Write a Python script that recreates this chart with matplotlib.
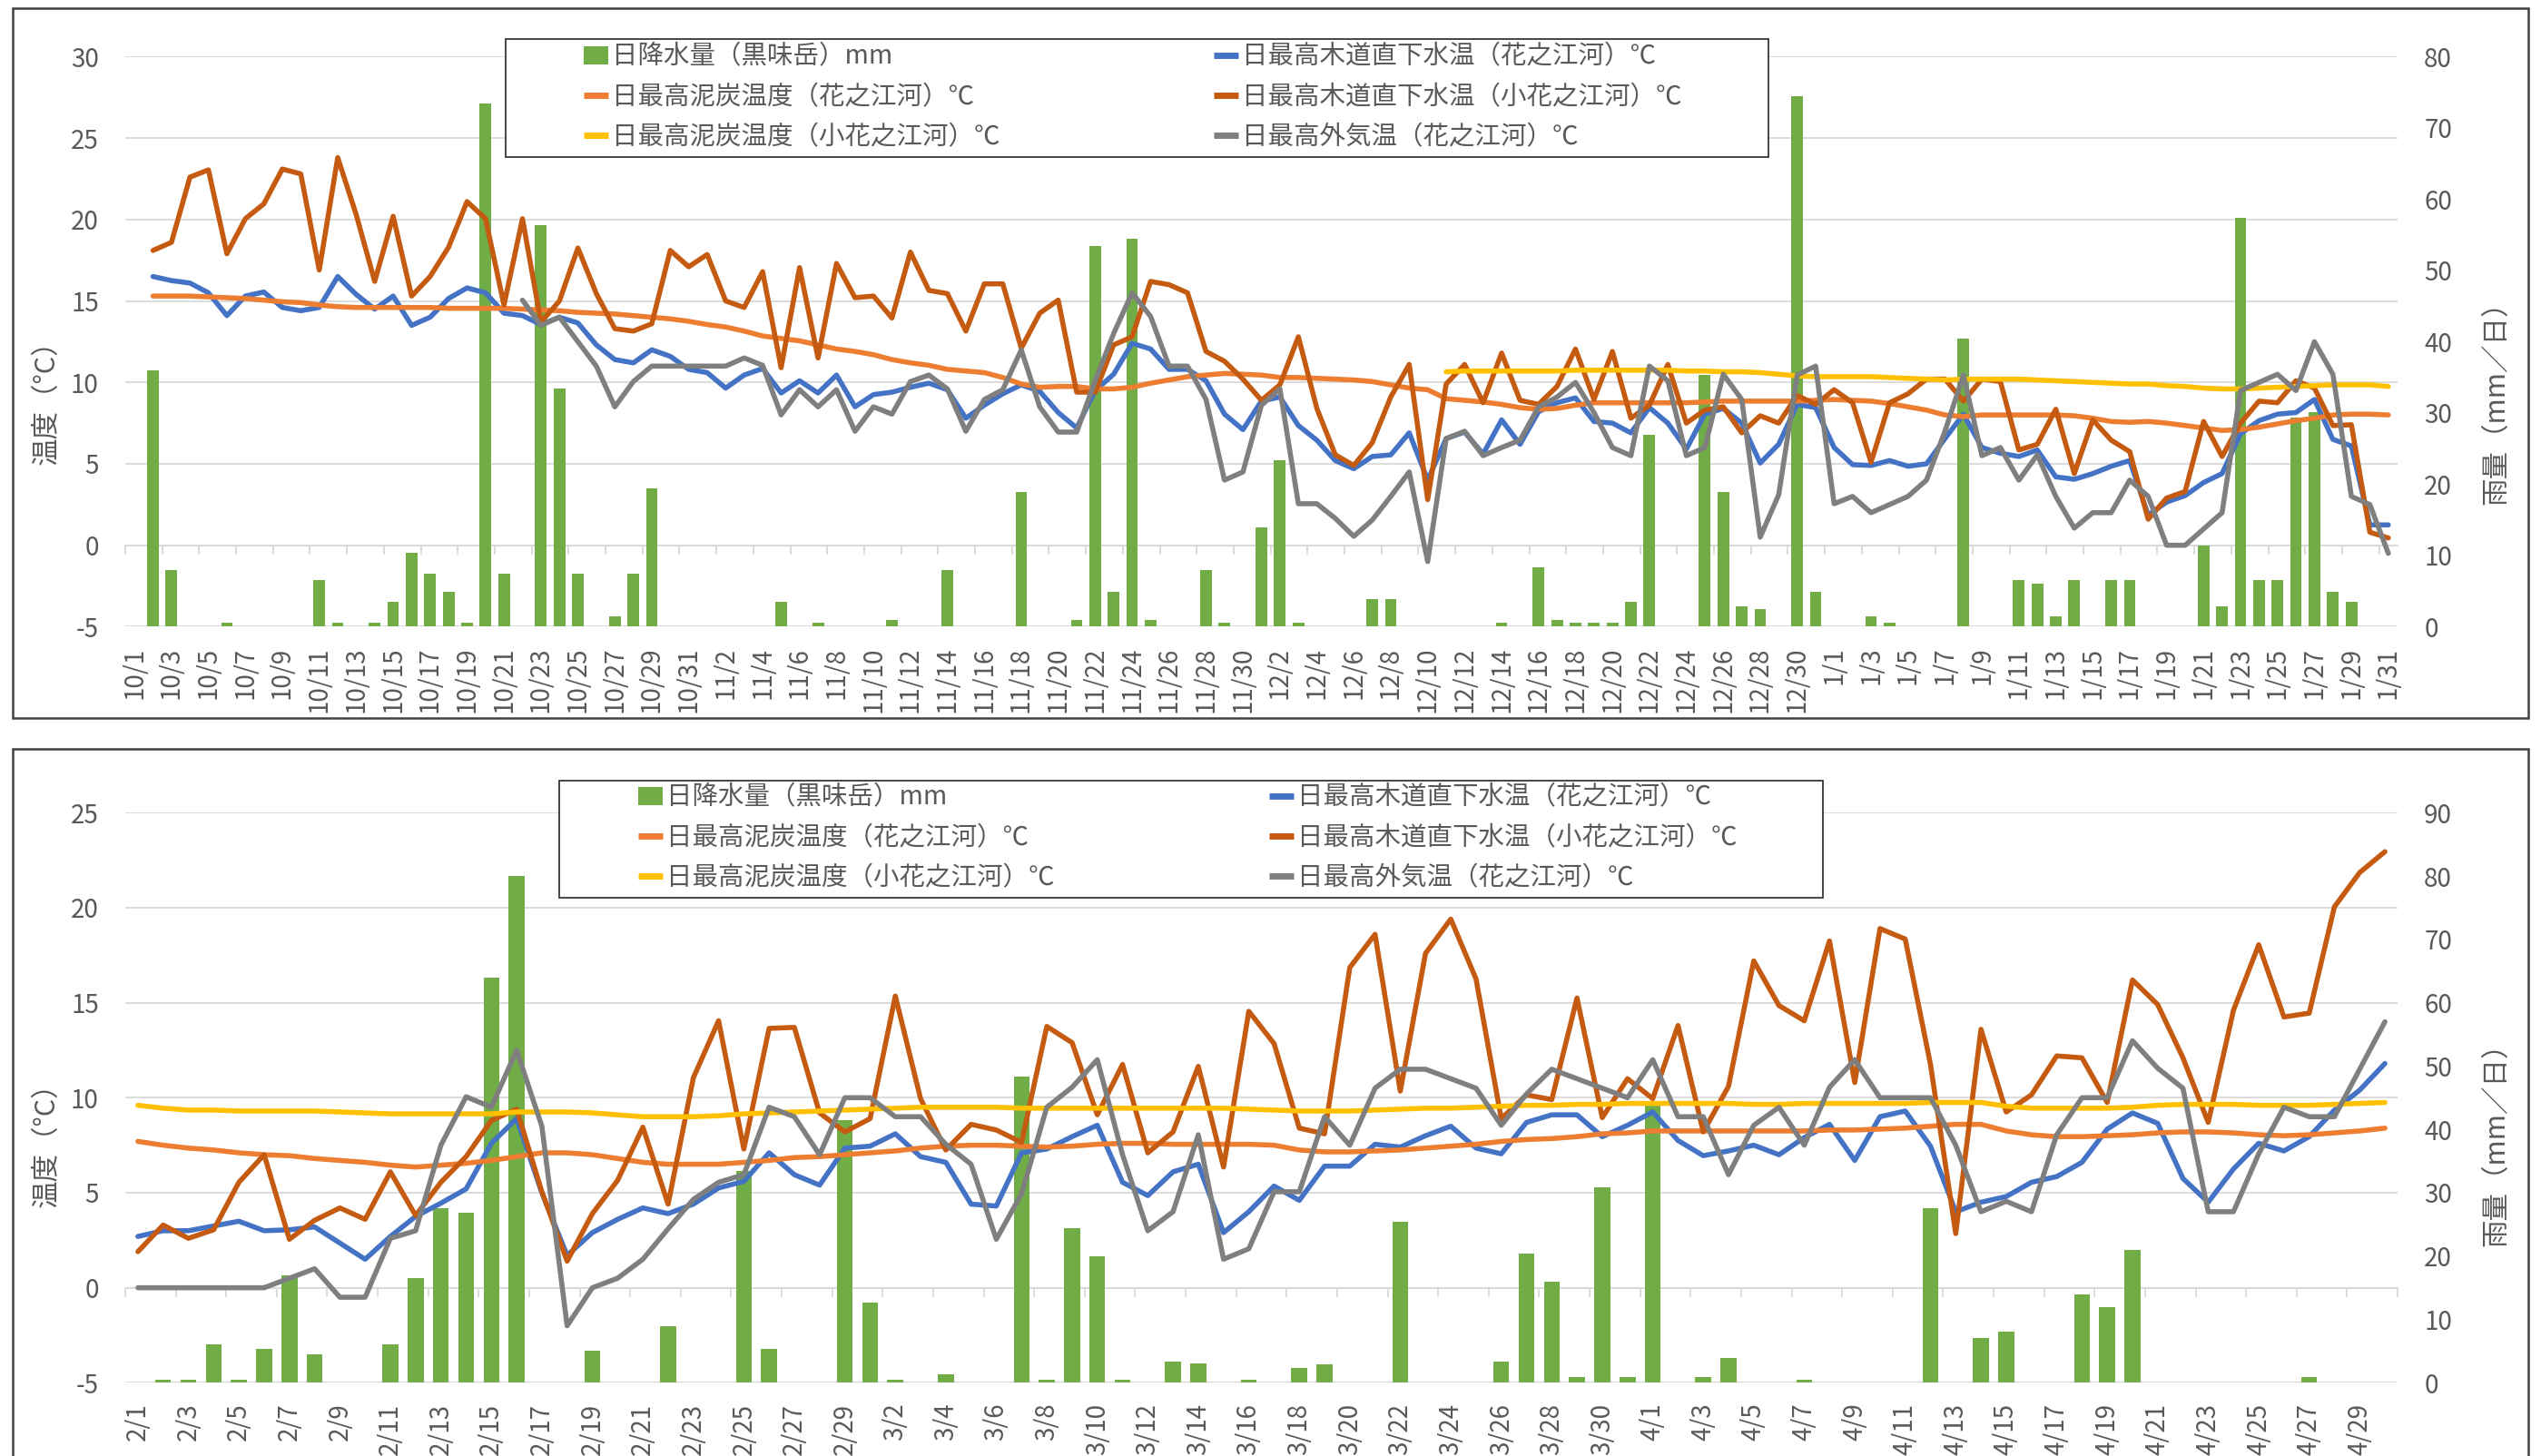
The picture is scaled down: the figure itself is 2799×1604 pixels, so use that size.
import numpy as np
import pandas as pd
import matplotlib
matplotlib.use('Agg')
import matplotlib.pyplot as plt
from matplotlib.patches import Rectangle, Patch
from matplotlib.lines import Line2D

plt.rcParams['font.family'] = ['Noto Sans CJK JP', 'DejaVu Sans']
plt.rcParams['axes.unicode_minus'] = False

nan = np.nan

# ---------------- data ----------------
top_dates = [f"{d.month}/{d.day}" for d in pd.date_range('2023-10-01', '2024-01-31')]
bot_dates = [f"{d.month}/{d.day}" for d in pd.date_range('2024-02-01', '2024-04-30')]

# Oct - Jan
top_rain = [0, 36.0, 7.9, 0, 0, 0.5, 0, 0, 0, 0,
            6.5, 0.5, 0, 0.5, 3.5, 10.4, 7.4, 4.9, 0.5, 73.4,
            7.4, 0, 56.4, 33.4, 7.4, 0, 1.4, 7.4, 19.4, 0,
            0, 0, 0, 0, 0, 3.5, 0, 0.5, 0, 0,
            0, 0.9, 0, 0, 7.9, 0, 0, 0, 18.9, 0,
            0, 0.9, 53.4, 4.9, 54.4, 0.9, 0, 0, 7.9, 0.5,
            0, 13.9, 23.4, 0.5, 0, 0, 0, 3.9, 3.9, 0,
            0, 0, 0, 0, 0.5, 0, 8.3, 0.9, 0.5, 0.5,
            0.5, 3.5, 26.9, 0, 0, 35.3, 18.9, 2.9, 2.5, 0,
            74.4, 4.9, 0, 0, 1.4, 0.5, 0, 0, 0, 40.4,
            0, 0, 6.5, 6.0, 1.4, 6.5, 0, 6.5, 6.5, 0,
            0, 0, 11.4, 2.9, 57.4, 6.5, 6.5, 29.4, 30.1, 4.9,
            3.5, 0, 0]

top_water_h = [nan, 16.5, 16.25, 16.1, 15.5, 14.1, 15.3, 15.55, 14.6, 14.4,
               14.6, 16.5, 15.4, 14.5, 15.3, 13.5, 14.0, 15.15, 15.8, 15.5,
               14.25, 14.1, 13.55, 14.0, 13.65, 12.3, 11.4, 11.2, 12.0, 11.6,
               10.8, 10.6, 9.65, 10.45, 10.85, 9.35, 10.1, 9.35, 10.45, 8.5,
               9.25, 9.4, 9.7, 9.95, 9.55, 7.8, 8.6, 9.3, 9.85, 9.45,
               8.15, 7.2, 9.5, 10.5, 12.4, 12.05, 10.8, 10.8, 10.1, 8.05,
               7.1, 8.85, 9.1, 7.35, 6.45, 5.2, 4.7, 5.45, 5.55, 6.9,
               4.0, 6.55, 6.95, 5.6, 7.7, 6.2, 8.2, 8.75, 9.05, 7.6,
               7.5, 6.9, 8.45, 7.5, 5.9, 8.05, 8.4, 7.5, 5.05, 6.2,
               8.65, 8.45, 6.0, 4.95, 4.9, 5.2, 4.85, 5.0, 6.55, 8.05,
               6.0, 5.65, 5.45, 5.85, 4.2, 4.05, 4.4, 4.85, 5.2, 1.85,
               2.65, 3.05, 3.85, 4.4, 6.85, 7.65, 8.05, 8.15, 8.95, 6.5,
               6.1, 1.25, 1.25]

top_water_k = [nan, 18.1, 18.6, 22.6, 23.05, 17.9, 20.05, 20.96, 23.1, 22.8,
               16.9, 23.8, 20.3, 16.2, 20.2, 15.3, 16.5, 18.3, 21.1, 20.05,
               14.75, 20.05, 13.7, 15.0, 18.25, 15.45, 13.3, 13.15, 13.6, 18.1,
               17.1, 17.85, 15.0, 14.6, 16.8, 10.9, 17.05, 11.5, 17.3, 15.2,
               15.3, 13.95, 18.0, 15.65, 15.45, 13.15, 16.05, 16.05, 12.1, 14.25,
               15.05, 9.4, 9.4, 12.3, 12.8, 16.2, 16.0, 15.5, 11.9, 11.3,
               10.2, 8.9, 9.85, 12.8, 8.4, 5.55, 4.9, 6.3, 9.1, 11.1,
               2.8, 9.9, 11.1, 8.75, 11.8, 8.9, 8.65, 9.75, 12.05, 8.95,
               11.9, 7.8, 8.6, 11.1, 7.5, 8.3, 8.5, 6.9, 7.95, 7.5,
               9.2, 8.65, 9.55, 8.75, 5.1, 8.75, 9.3, 10.2, 10.2, 8.85,
               10.2, 10.05, 5.85, 6.2, 8.35, 4.4, 7.7, 6.45, 5.75, 1.6,
               2.9, 3.3, 7.6, 5.45, 7.5, 8.85, 8.75, 10.1, 9.65, 7.35,
               7.4, 0.8, 0.45]

top_peat_h = [nan, 15.3, 15.3, 15.3, 15.25, 15.2, 15.15, 15.05, 14.95, 14.9,
              14.75, 14.65, 14.6, 14.6, 14.6, 14.6, 14.6, 14.55, 14.55, 14.55,
              14.55, 14.5, 14.45, 14.4, 14.3, 14.25, 14.2, 14.1, 14.0, 13.9,
              13.75, 13.55, 13.4, 13.15, 12.85, 12.7, 12.55, 12.3, 12.05, 11.9,
              11.7, 11.4, 11.2, 11.05, 10.8, 10.7, 10.6, 10.3, 9.9, 9.7,
              9.75, 9.75, 9.6, 9.6, 9.7, 9.95, 10.15, 10.35, 10.45, 10.55,
              10.5, 10.45, 10.3, 10.3, 10.25, 10.2, 10.15, 10.05, 9.85, 9.65,
              9.55, 9.0, 8.9, 8.8, 8.65, 8.45, 8.35, 8.4, 8.6, 8.75,
              8.75, 8.75, 8.75, 8.75, 8.75, 8.8, 8.85, 8.85, 8.85, 8.85,
              8.85, 8.9, 8.95, 8.9, 8.85, 8.7, 8.5, 8.3, 8.0, 7.9,
              8.0, 8.0, 8.0, 8.0, 8.0, 7.95, 7.8, 7.6, 7.55, 7.6,
              7.5, 7.35, 7.2, 7.05, 7.1, 7.25, 7.45, 7.65, 7.8, 8.0,
              8.05, 8.05, 8.0]

top_peat_k = [nan] * 71 + [
    10.65, 10.7, 10.7, 10.7, 10.7, 10.7, 10.7, 10.75, 10.75, 10.75,
    10.75, 10.75, 10.75, 10.7, 10.7, 10.65, 10.65, 10.6, 10.5, 10.4,
    10.35, 10.35, 10.35, 10.35, 10.3, 10.25, 10.2, 10.15, 10.2, 10.2,
    10.2, 10.2, 10.15, 10.1, 10.05, 10.0, 9.95, 9.9, 9.9, 9.8,
    9.75, 9.65, 9.6, 9.6, 9.65, 9.7, 9.75, 9.8, 9.85, 9.85,
    9.85, 9.75]

top_air = [nan] * 21 + [
    15.05, 13.5, 14.0, 12.5, 11.0, 8.5, 10.05, 11.0, 11.0, 11.0,
    11.0, 11.0, 11.5, 11.05, 8.0, 9.55, 8.5, 9.55, 7.0, 8.5,
    8.05, 10.05, 10.45, 9.6, 7.0, 8.95, 9.55, 12.0, 8.5, 6.95,
    6.95, 10.1, 13.0, 15.5, 14.05, 11.0, 11.0, 8.95, 4.0, 4.5,
    8.6, 9.6, 2.55, 2.55, 1.65, 0.55, 1.55, 3.0, 4.5, -1.0,
    6.55, 7.0, 5.5, 6.0, 6.45, 8.5, 9.1, 10.0, 8.15, 6.0,
    5.5, 11.0, 10.1, 5.5, 6.0, 10.5, 8.95, 0.5, 3.1, 10.45,
    11.0, 2.55, 3.0, 2.0, 2.5, 3.0, 4.0, 7.0, 10.45, 5.5,
    6.0, 4.0, 5.55, 3.0, 1.05, 2.0, 2.0, 4.0, 3.0, 0.0,
    0.0, 1.0, 2.0, 9.5, 10.0, 10.5, 9.5, 12.5, 10.5, 3.0,
    2.5, -0.5]

# Feb - Apr
bot_rain = [0, 0.5, 0.5, 6.0, 0.5, 5.4, 16.9, 4.5, 0, 0,
            6.0, 16.5, 27.5, 26.9, 63.9, 80.0, 0, 0, 5.0, 0,
            0, 8.9, 0, 0, 33.4, 5.4, 0, 0, 41.5, 12.6,
            0.5, 0, 1.4, 0, 0, 48.4, 0.5, 24.4, 19.9, 0.5,
            0, 3.4, 3.0, 0, 0.5, 0, 2.4, 2.9, 0, 0,
            25.4, 0, 0, 0, 3.4, 20.4, 16.0, 0.9, 30.9, 0.9,
            43.8, 0, 0.9, 3.9, 0, 0, 0.5, 0, 0, 0,
            0, 27.5, 0, 7.0, 8.0, 0, 0, 13.9, 12.0, 21.0,
            0, 0, 0, 0, 0, 0, 0.9, 0, 0, 0]

bot_water_h = [2.7, 3.0, 3.0, 3.25, 3.5, 3.0, 3.05, 3.2, 2.35, 1.5,
               2.7, 3.75, 4.45, 5.2, 7.6, 8.9, 5.0, 1.7, 2.9, 3.6,
               4.2, 3.9, 4.4, 5.25, 5.6, 7.1, 5.95, 5.4, 7.35, 7.45,
               8.1, 6.9, 6.6, 4.4, 4.3, 7.1, 7.3, 7.95, 8.55, 5.55,
               4.85, 6.1, 6.5, 2.9, 4.0, 5.35, 4.6, 6.4, 6.4, 7.55,
               7.4, 8.0, 8.5, 7.35, 7.05, 8.7, 9.1, 9.1, 7.95, 8.55,
               9.25, 7.75, 6.95, 7.2, 7.5, 7.0, 7.9, 8.6, 6.7, 9.0,
               9.3, 7.45, 4.0, 4.5, 4.8, 5.55, 5.85, 6.6, 8.35, 9.2,
               8.65, 5.75, 4.5, 6.25, 7.6, 7.2, 7.95, 9.35, 10.4, 11.8]

bot_water_k = [1.9, 3.3, 2.6, 3.05, 5.55, 7.0, 2.55, 3.55, 4.2, 3.6,
               6.1, 3.8, 5.55, 6.9, 8.8, 9.4, 5.05, 1.4, 3.9, 5.65,
               8.45, 4.4, 11.05, 14.05, 7.3, 13.65, 13.7, 9.2, 8.2, 8.9,
               15.35, 9.95, 7.25, 8.6, 8.3, 7.65, 13.75, 12.9, 9.1, 11.75,
               7.1, 8.2, 11.65, 6.35, 14.55, 12.85, 8.4, 8.1, 16.85, 18.6,
               10.35, 17.6, 19.4, 16.25, 8.9, 10.15, 9.9, 15.25, 8.95, 11.0,
               9.95, 13.8, 8.2, 10.6, 17.2, 14.85, 14.05, 18.25, 10.8, 18.9,
               18.35, 11.75, 2.85, 13.6, 9.25, 10.15, 12.2, 12.1, 9.75, 16.2,
               14.9, 12.1, 8.7, 14.6, 18.05, 14.25, 14.45, 20.05, 21.85, 22.95]

bot_peat_h = [7.7, 7.5, 7.35, 7.25, 7.1, 7.0, 6.95, 6.8, 6.7, 6.6,
              6.45, 6.35, 6.45, 6.55, 6.7, 6.9, 7.1, 7.1, 7.0, 6.8,
              6.6, 6.5, 6.5, 6.5, 6.6, 6.7, 6.85, 6.9, 7.0, 7.1,
              7.2, 7.35, 7.45, 7.5, 7.5, 7.45, 7.4, 7.45, 7.55, 7.6,
              7.6, 7.55, 7.55, 7.55, 7.55, 7.5, 7.25, 7.15, 7.15, 7.2,
              7.25, 7.35, 7.45, 7.55, 7.7, 7.8, 7.85, 7.95, 8.1, 8.15,
              8.25, 8.25, 8.25, 8.25, 8.25, 8.25, 8.25, 8.3, 8.3, 8.35,
              8.4, 8.5, 8.6, 8.6, 8.25, 8.05, 7.95, 7.95, 8.0, 8.05,
              8.15, 8.2, 8.2, 8.15, 8.05, 8.0, 8.05, 8.15, 8.25, 8.4]

bot_peat_k = [9.6, 9.45, 9.35, 9.35, 9.3, 9.3, 9.3, 9.3, 9.25, 9.2,
              9.15, 9.15, 9.15, 9.15, 9.15, 9.25, 9.25, 9.25, 9.2, 9.1,
              9.0, 9.0, 9.0, 9.05, 9.15, 9.2, 9.25, 9.3, 9.35, 9.4,
              9.45, 9.5, 9.5, 9.5, 9.5, 9.45, 9.45, 9.45, 9.45, 9.45,
              9.45, 9.45, 9.45, 9.45, 9.4, 9.35, 9.3, 9.3, 9.3, 9.35,
              9.4, 9.45, 9.45, 9.5, 9.55, 9.6, 9.6, 9.65, 9.65, 9.7,
              9.7, 9.7, 9.7, 9.7, 9.65, 9.65, 9.7, 9.7, 9.7, 9.7,
              9.7, 9.75, 9.75, 9.75, 9.55, 9.45, 9.45, 9.45, 9.45, 9.5,
              9.6, 9.65, 9.65, 9.65, 9.6, 9.6, 9.6, 9.65, 9.7, 9.75]

bot_air = [0.0, 0.0, 0.0, 0.0, 0.0, 0.0, 0.5, 1.0, -0.5, -0.5,
           2.6, 3.0, 7.5, 10.05, 9.5, 12.5, 8.5, -2.0, 0.0, 0.5,
           1.5, 3.1, 4.65, 5.55, 5.95, 9.5, 9.0, 7.0, 10.0, 10.0,
           9.0, 9.0, 7.55, 6.5, 2.55, 4.95, 9.5, 10.55, 12.0, 7.0,
           3.0, 4.0, 8.05, 1.5, 2.05, 5.05, 5.05, 9.0, 7.5, 10.5,
           11.5, 11.5, 11.0, 10.5, 8.55, 10.2, 11.5, 11.0, 10.5, 10.0,
           12.0, 9.0, 9.0, 5.95, 8.55, 9.5, 7.5, 10.55, 12.0, 10.0,
           10.0, 10.0, 7.5, 4.0, 4.55, 4.0, 8.05, 10.0, 10.0, 13.0,
           11.55, 10.5, 4.0, 4.0, 7.05, 9.5, 9.0, 9.0, 11.5, 14.0]

labels = ['日降水量（黒味岳）mm',
          '日最高泥炭温度（花之江河）℃',
          '日最高泥炭温度（小花之江河）℃',
          '日最高木道直下水温（花之江河）℃',
          '日最高木道直下水温（小花之江河）℃',
          '日最高外気温（花之江河）℃']

C_RAIN = '#70AD47'
C_WH = '#4472C4'
C_PH = '#ED7D31'
C_WK = '#C55A11'
C_PK = '#FFC000'
C_AIR = '#7F7F7F'
TXT = '#595959'
GRID = '#D9D9D9'

W, H = 2799, 1604
fig = plt.figure(figsize=(W / 100, H / 100), dpi=100)


def fx(px):
    return px / W


def fy(py):
    return 1 - py / H


def frame(x0, y0, x1, y1, **kw):
    fig.add_artist(Rectangle((fx(x0), fy(y1)), fx(x1) - fx(x0), fy(y0) - fy(y1),
                             transform=fig.transFigure, **kw))


def panel(box, plot, dates, rain, peat_h, peat_k, water_h, water_k, air,
          t_lim, r_lim, r_step, leg_box, leg_x, leg_y, lab_y):
    frame(*box, fill=False, edgecolor='#404040', lw=1.8, zorder=0)

    l, t, r, b = plot
    ax = fig.add_axes([fx(l), fy(b), fx(r) - fx(l), fy(t) - fy(b)])
    ax_r = ax.twinx()
    ax_l = ax.twinx()
    ax.set_zorder(0)
    ax_r.set_zorder(1)
    ax_l.set_zorder(2)

    n = len(dates)
    x = np.arange(n)
    ax.set_xlim(-0.5, n - 0.5)
    ax.set_ylim(*t_lim)
    ax_l.set_ylim(*t_lim)
    ax_r.set_ylim(*r_lim)

    # grid + category axis crossing at 0
    ax.set_yticks(np.arange(t_lim[0], t_lim[1] + 1, 5))
    ax.yaxis.grid(True, color=GRID, lw=1.3)
    ax.set_axisbelow(True)
    for s in ['top', 'left', 'right']:
        ax.spines[s].set_visible(False)
    ax.spines['bottom'].set_position(('data', 0))
    ax.spines['bottom'].set_color(GRID)
    ax.spines['bottom'].set_linewidth(1.3)
    ax.set_xticks(np.arange(-0.5, n, 2))
    ax.tick_params(axis='x', direction='out', length=7, width=1.3, color=GRID,
                   labelbottom=False)
    ax.tick_params(axis='y', length=0, labelsize=20, labelcolor=TXT, pad=21)

    sec = ax.secondary_xaxis(0)
    sec.set_xticks(x[::2], labels=dates[::2])
    sec.tick_params(axis='x', length=0, pad=16, labelsize=20, labelcolor=TXT,
                    labelrotation=90)
    sec.spines['bottom'].set_visible(False)

    for s in ax_r.spines.values():
        s.set_visible(False)
    ax_r.set_yticks(np.arange(0, r_lim[1] + 1, r_step))
    ax_r.tick_params(axis='y', length=0, labelsize=20, labelcolor=TXT, pad=21)
    ax_l.set_axis_off()

    ax.set_ylabel('温度（°C）', fontsize=22, color=TXT)
    ax.yaxis.set_label_coords(-0.0284, lab_y)
    ax_r.set_ylabel('雨量（mm／日）', fontsize=22, color=TXT)
    ax_r.yaxis.set_label_coords(1.0372, lab_y)

    # series
    ax_r.bar(x, rain, width=0.63, color=C_RAIN)
    kw = dict(lw=4.0, solid_joinstyle='round', solid_capstyle='round')
    ax_l.plot(x, water_h, color=C_WH, **kw)
    ax_l.plot(x, peat_h, color=C_PH, **kw)
    ax_l.plot(x, water_k, color=C_WK, **kw)
    ax_l.plot(x, peat_k, color=C_PK, **kw)
    ax_l.plot(x, air, color=C_AIR, **kw)

    # legend
    frame(*leg_box, facecolor='white', edgecolor='#262626', lw=1.2, zorder=3)
    handles = [Patch(facecolor=C_RAIN, edgecolor='none'),
               Line2D([0], [0], color=C_PH, lw=5, solid_capstyle='butt'),
               Line2D([0], [0], color=C_PK, lw=5, solid_capstyle='butt'),
               Line2D([0], [0], color=C_WH, lw=5, solid_capstyle='butt'),
               Line2D([0], [0], color=C_WK, lw=5, solid_capstyle='butt'),
               Line2D([0], [0], color=C_AIR, lw=5, solid_capstyle='butt')]
    for k in range(2):
        fig.legend(handles[3 * k:3 * k + 3], labels[3 * k:3 * k + 3],
                   loc='center left', bbox_to_anchor=(fx(leg_x[k]), fy(leg_y)),
                   bbox_transform=fig.transFigure, frameon=False, fontsize=20.5,
                   labelcolor=TXT, handlelength=0.95, handleheight=0.7,
                   handletextpad=0.15, labelspacing=0.5, borderpad=0,
                   borderaxespad=0)


panel(box=(14, 9, 2785, 791), plot=(138, 62.4, 2641, 690.4), dates=top_dates,
      rain=top_rain, peat_h=top_peat_h, peat_k=top_peat_k,
      water_h=top_water_h, water_k=top_water_k, air=top_air,
      t_lim=(-5, 30), r_lim=(0, 80), r_step=10,
      leg_box=(557, 43, 1948, 173), leg_x=(643, 1337), leg_y=107, lab_y=0.405)

panel(box=(14, 825, 2785, 1700), plot=(138, 895.3, 2641, 1523.3), dates=bot_dates,
      rain=bot_rain, peat_h=bot_peat_h, peat_k=bot_peat_k,
      water_h=bot_water_h, water_k=bot_water_k, air=bot_air,
      t_lim=(-5, 25), r_lim=(0, 90), r_step=10,
      leg_box=(616, 860, 2008, 989), leg_x=(703, 1398), leg_y=923, lab_y=0.43)

fig.savefig('out.png', dpi=100)
